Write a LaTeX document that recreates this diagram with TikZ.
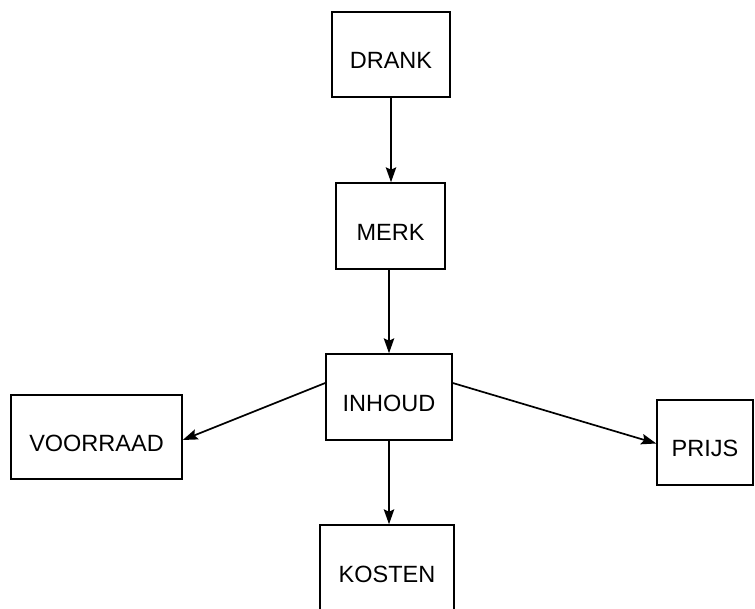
\documentclass[tikz,border=0pt]{standalone}
\usepackage{fontspec}
\setmainfont{Liberation Sans}
\usetikzlibrary{arrows.meta}
\tikzset{
  entity/.style={draw, line width=1.5pt, inner sep=0pt, text height=29pt, text depth=0pt,
    font=\fontsize{23.5}{28}\selectfont},
  link/.style={line width=1.7pt, -{Stealth[length=15pt,width=10.5pt,inset=2.5pt]}}
}
\begin{document}
\begin{tikzpicture}[x=1pt,y=1pt]
\useasboundingbox (0,0) rectangle (755,608);
\clip (0,0) rectangle (755,608);
\node[entity, minimum width=118pt, minimum height=85pt] (drank) at (391,553.5) {DRANK};
\node[entity, minimum width=109pt, minimum height=86pt] (merk) at (390.5,382) {MERK};
\node[entity, minimum width=126pt, minimum height=86pt] (inhoud) at (389,211) {INHOUD};
\node[entity, minimum width=171pt, minimum height=84pt] (voorraad) at (96.5,171) {VOORRAAD};
\node[entity, minimum width=96pt, minimum height=85pt] (prijs) at (705,165.5) {PRIJS};
\node[entity, minimum width=134pt, minimum height=86pt] (kosten) at (387,40) {KOSTEN};
\draw[link] (drank.south) -- (drank.south |- merk.north);
\draw[link] (inhoud.north |- merk.south) -- (inhoud.north);
\draw[link] (inhoud.south) -- (inhoud.south |- kosten.north);
\draw[link] ([yshift=14pt]inhoud.west) -- ([yshift=-3pt]voorraad.east);
\draw[link] ([yshift=14pt]inhoud.east) -- ([yshift=-1pt]prijs.west);
\end{tikzpicture}
\end{document}
